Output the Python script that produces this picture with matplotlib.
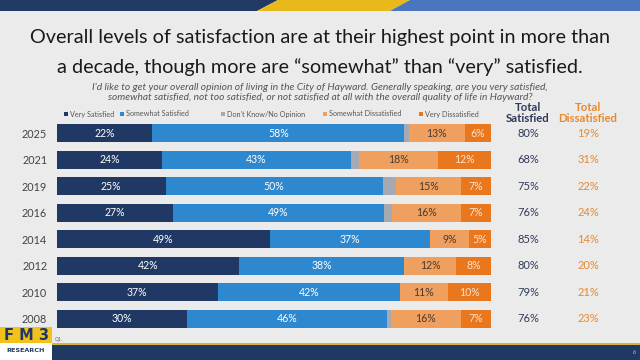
import matplotlib
matplotlib.use("Agg")
import matplotlib.pyplot as plt
import matplotlib.patches as mpatches
import matplotlib.transforms as mtransforms
import numpy as np

# ---------------- data ----------------
years = ["2025", "2021", "2019", "2016", "2014", "2012", "2010", "2008"]
categories = ["Very Satisfied", "Somewhat Satisfied", "Don't Know/No Opinion",
              "Somewhat Dissatisfied", "Very Dissatisfied"]
very_satisfied = [22, 24, 25, 27, 49, 42, 37, 30]
somewhat_satisfied = [58, 43, 50, 49, 37, 38, 42, 46]
dont_know = [1, 2, 3, 2, 0, 0, 0, 1]
somewhat_dissatisfied = [13, 18, 15, 16, 9, 12, 11, 16]
very_dissatisfied = [6, 12, 7, 7, 5, 8, 10, 7]
total_satisfied = [80, 68, 75, 76, 85, 80, 79, 76]
total_dissatisfied = [19, 31, 22, 24, 14, 20, 21, 23]

title_lines = ["Overall levels of satisfaction are at their highest point in more than",
               "a decade, though more are \u201csomewhat\u201d than \u201cvery\u201d satisfied."]
subtitle_lines = ["I'd like to get your overall opinion of living in the City of Hayward. Generally speaking, are you very satisfied,",
                  "somewhat satisfied, not too satisfied, or not satisfied at all with the overall quality of life in Hayward?"]

# ---------------- style ----------------
colors = ["#1F3864", "#2E88CF", "#A5A9B2", "#F0A05E", "#E8771E"]
label_colors = ["white", "white", None, "#4A3A30", "#FDE3CC"]
BG = "#EBEBEB"
NAVY = "#1F3864"
ORANGE_TXT = "#E8892F"

W, H = 640, 360
fig = plt.figure(figsize=(W / 100, H / 100), dpi=100, facecolor=BG)
plt.rcParams['font.family'] = ['Lato', 'DejaVu Sans']

def fx(px):
    return px / W

def fy(py):
    return 1 - py / H

# top banner
fig.patches.append(mpatches.Polygon([(fx(0), fy(0)), (fx(278), fy(0)), (fx(257), fy(11)), (fx(0), fy(11))],
                                    closed=True, transform=fig.transFigure, facecolor="#203A63", edgecolor="none"))
fig.patches.append(mpatches.Polygon([(fx(278), fy(0)), (fx(410), fy(0)), (fx(390), fy(11)), (fx(257), fy(11))],
                                    closed=True, transform=fig.transFigure, facecolor="#E9B91C", edgecolor="none"))
fig.patches.append(mpatches.Polygon([(fx(410), fy(0)), (fx(640), fy(0)), (fx(640), fy(11)), (fx(390), fy(11))],
                                    closed=True, transform=fig.transFigure, facecolor="#4A76C0", edgecolor="none"))

# bottom bar
fig.patches.append(mpatches.Rectangle((fx(52), fy(360)), fx(588), 15 / H, transform=fig.transFigure,
                                      facecolor=NAVY, edgecolor="none"))
fig.patches.append(mpatches.Rectangle((fx(52), fy(345)), fx(588), 2.5 / H, transform=fig.transFigure,
                                      facecolor="#D9B23A", edgecolor="none"))
# logo
fig.patches.append(mpatches.Rectangle((fx(0), fy(343)), fx(52), 16 / H, transform=fig.transFigure,
                                      facecolor="#F2C21B", edgecolor="none"))
fig.patches.append(mpatches.Rectangle((fx(0), fy(360)), fx(52), 17 / H, transform=fig.transFigure,
                                      facecolor="white", edgecolor="none"))
fig.text(fx(26), fy(335.5), "F M 3", ha="center", va="center", fontsize=10.5, fontweight="bold",
         color=NAVY, family=["DejaVu Sans"])
fig.text(fx(26), fy(351), "RESEARCH", ha="center", va="center", fontsize=4.6, fontweight="bold",
         color=NAVY, family=["DejaVu Sans"])
fig.text(fx(55), fy(339), "Q1.", ha="left", va="center", fontsize=3.5, color="#666666")
fig.text(fx(636), fy(353), "6", ha="right", va="center", fontsize=4, color="#CCCCCC")

# title, fitted to reference widths
renderer = fig.canvas.get_renderer()
title_targets = [(38, 585), (67, 528)]
for line, (ypx, wpx) in zip(title_lines, title_targets):
    t = fig.text(0.5, fy(ypx), line, ha="center", va="center", fontsize=16, color="#1A1A1A")
    w = t.get_window_extent(renderer).width
    t.set_fontsize(16 * wpx / w)

sub_targets = [(87, 455), (98, 426)]
for line, (ypx, wpx) in zip(subtitle_lines, sub_targets):
    t = fig.text(0.5, fy(ypx), line, ha="center", va="center", fontsize=7, color="#555555",
                 style="italic")
    w = t.get_window_extent(renderer).width
    t.set_fontsize(7 * wpx / w)

# legend (manual)
legend_x = [66, 122, 223, 325, 421]
for xpx, cat, col in zip(legend_x, categories, colors):
    fig.patches.append(mpatches.Rectangle((fx(xpx - 2), fy(116)), 4 / W, 4 / H,
                                          transform=fig.transFigure, facecolor=col, edgecolor="none"))
    fig.text(fx(xpx + 4), fy(114), cat, ha="left", va="center", fontsize=5.2, color="#555555")

# ---------------- bars ----------------
ax_top, ax_bot = 120, 332
ax = fig.add_axes([fx(57), 1 - ax_bot / H, fx(491 - 57), (ax_bot - ax_top) / H])
ax.set_facecolor("none")
series = np.array([very_satisfied, somewhat_satisfied, dont_know,
                   somewhat_dissatisfied, very_dissatisfied], dtype=float)
widths = series / series.sum(axis=0) * 100
ypos = np.arange(len(years))
left = np.zeros(len(years))
for k in range(len(categories)):
    ax.barh(ypos, widths[k], left=left, height=0.68, color=colors[k], edgecolor="none")
    if label_colors[k] is not None:
        for i in range(len(years)):
            if series[k, i] > 0:
                ax.text(left[i] + widths[k, i] / 2, ypos[i], f"{int(series[k, i])}%",
                        ha="center", va="center", fontsize=7.6, color=label_colors[k])
    left += widths[k]

ax.set_xlim(0, 100)
ax.set_ylim(len(years) - 0.5, -0.5)
ax.set_yticks(ypos)
ax.set_yticklabels(years, fontsize=7.8, color="#444444")
ax.tick_params(axis="y", length=0, pad=7)
ax.set_xticks([])
for s in ax.spines.values():
    s.set_visible(False)

# totals columns
trans = mtransforms.blended_transform_factory(fig.transFigure, ax.transData)
for i in range(len(years)):
    ax.text(fx(528), ypos[i], f"{total_satisfied[i]}%", transform=trans, ha="center", va="center",
            fontsize=8, color="#2F3B57", clip_on=False)
    ax.text(fx(588), ypos[i], f"{total_dissatisfied[i]}%", transform=trans, ha="center", va="center",
            fontsize=8, color=ORANGE_TXT, clip_on=False)

fig.text(fx(528), fy(113), "Total\nSatisfied", ha="center", va="center", fontsize=8.2,
         fontweight="bold", color="#2F3B57", linespacing=1.0)
fig.text(fx(588), fy(113), "Total\nDissatisfied", ha="center", va="center", fontsize=8.2,
         fontweight="bold", color=ORANGE_TXT, linespacing=1.0)

fig.savefig("out.png", dpi=100, facecolor=BG)
